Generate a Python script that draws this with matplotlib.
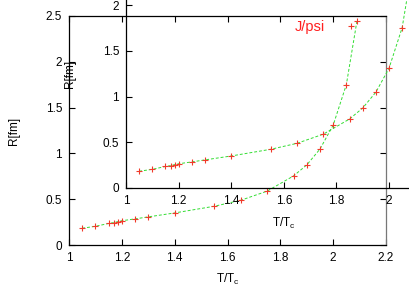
import matplotlib
matplotlib.use("Agg")
import matplotlib.pyplot as plt

# R(T) for J/psi
t_over_tc = [1.05, 1.10, 1.15, 1.17, 1.185, 1.20, 1.25, 1.30, 1.40, 1.55,
             1.65, 1.75, 1.85, 1.90, 1.95, 2.00, 2.05, 2.09]
radius_fm = [0.183, 0.204, 0.235, 0.245, 0.255, 0.265, 0.285, 0.307, 0.350, 0.423,
             0.488, 0.588, 0.754, 0.874, 1.047, 1.308, 1.752, 2.445]

xticks = [1.0, 1.2, 1.4, 1.6, 1.8, 2.0, 2.2]
xticklabels = ["1", "1.2", "1.4", "1.6", "1.8", "2", "2.2"]
yticks = [0.0, 0.5, 1.0, 1.5, 2.0, 2.5]
yticklabels = ["0", "0.5", "1", "1.5", "2", "2.5"]

plt.rcParams['font.family'] = ['Liberation Sans', 'DejaVu Sans']
plt.rcParams['font.size'] = 8.5
plt.rcParams['mathtext.fontset'] = 'custom'
plt.rcParams['mathtext.rm'] = 'Liberation Sans'
plt.rcParams['mathtext.it'] = 'Liberation Sans'

W, H = 409, 286
fig = plt.figure(figsize=(W / 100, H / 100), dpi=100)


def draw(ax):
    ax.plot(t_over_tc, radius_fm, color='#33dd33', lw=0.7, ls=(0, (3, 2)), zorder=2)
    pts, = ax.plot(t_over_tc, radius_fm, ls='none', marker='+', ms=5, mew=0.8,
                   color='#f03a2a', zorder=3)
    ax.set_xlim(1.0, 2.2)
    ax.set_ylim(0.0, 2.5)
    ax.set_xticks(xticks)
    ax.set_xticklabels(xticklabels)
    ax.set_yticks(yticks)
    ax.set_yticklabels(yticklabels)
    ax.tick_params(direction='in', length=4, width=0.8, pad=5,
                   top=True, right=True, colors='black')
    for s in ax.spines.values():
        s.set_linewidth(0.9)
    ax.set_xlabel(r'T/T$_{\mathrm{c}}$')
    ax.set_ylabel('R[fm]')
    ax.patch.set_alpha(0)
    return pts


# main panel (pixel box 69..386 x 16..245)
ax = fig.add_axes([69 / W, (H - 245) / H, 317 / W, 229 / H])
pts = draw(ax)
ax.xaxis.set_label_coords(0.5, -27 / 229)
ax.yaxis.set_label_coords(-49 / 317, 0.5)
ax.spines['right'].set_color('#777777')
ax.legend([pts], ['J/psi'], loc='upper right', markerfirst=False, frameon=False,
          numpoints=1, handlelength=2.0, handletextpad=0.8, borderpad=0,
          borderaxespad=0, labelcolor='#ff2020', fontsize=10.5,
          bbox_to_anchor=((365.5 - 69) / 317, (245 - 20) / 229))

# second copy, shifted up/right and partly off the canvas
ax2 = fig.add_axes([126 / W, (H - 188) / H, 315.6 / W, 228.75 / H])
draw(ax2)
ax2.xaxis.set_label_coords(0.5, -28 / 228.75)
ax2.yaxis.set_label_coords(-50 / 315.6, 0.5)

fig.savefig("out.png", dpi=100)
